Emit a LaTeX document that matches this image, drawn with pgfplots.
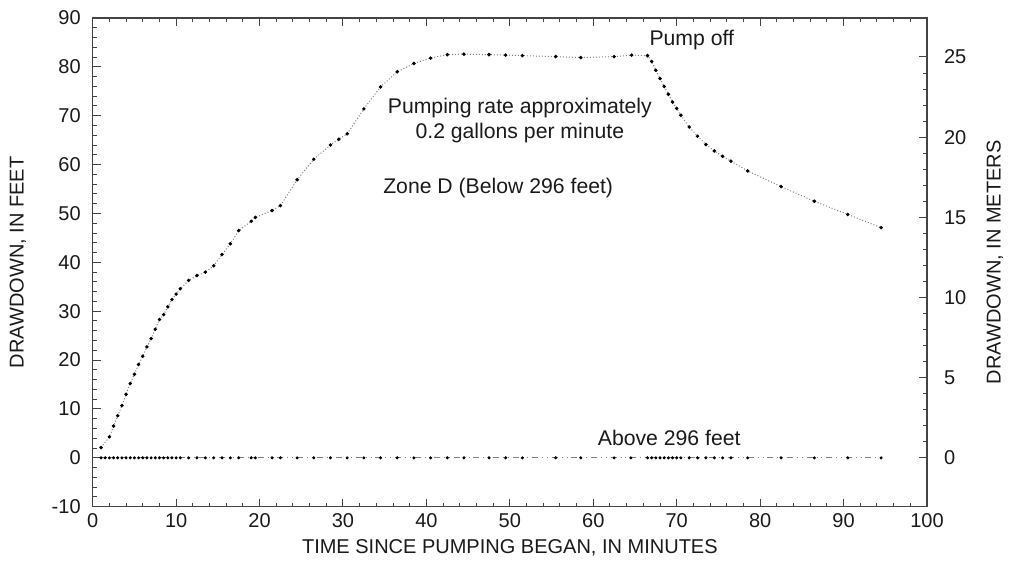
\documentclass[border=0pt]{standalone}
\usepackage{pgfplots}
\pgfplotsset{compat=1.18}
\usepackage{fontspec}
\setmainfont{Liberation Sans}
\usetikzlibrary{calc}

\pgfplotstableread{
t dd
1.0 2.1
2.0 4.3
2.5 6.5
3.0 8.6
3.5 10.7
4.0 13.0
4.5 15.2
5.0 17.1
5.5 19.1
6.0 20.8
6.5 22.7
7.0 24.4
7.5 26.3
8.0 28.3
8.5 29.3
9.0 30.9
9.5 32.4
10.0 33.5
10.5 34.6
11.5 36.3
12.5 37.3
13.5 38.0
14.5 39.3
15.5 41.6
16.5 43.8
17.5 46.5
19.0 48.4
19.5 49.2
21.5 50.6
22.5 51.6
24.5 56.9
26.5 61.1
28.5 64.0
29.5 65.2
30.5 66.3
32.5 71.4
34.5 75.9
36.5 79.0
38.5 80.7
40.5 81.8
42.5 82.5
44.5 82.6
47.5 82.5
49.5 82.4
51.5 82.3
55.5 82.1
58.5 81.9
62.5 82.1
64.6 82.4
66.5 82.3
67.0 81.1
67.5 79.3
68.0 77.6
68.5 76.0
69.0 74.4
69.5 72.8
70.0 71.5
70.5 70.1
71.5 67.7
72.5 65.8
73.5 64.1
74.5 62.8
75.5 61.7
76.5 60.7
78.5 58.7
82.5 55.5
86.5 52.5
90.5 49.8
94.5 47.1
}\zoned

\pgfplotstableread{
t dd
1.0 0
1.5 0
2.0 0
2.5 0
3.0 0
3.5 0
4.0 0
4.5 0
5.0 0
5.5 0
6.0 0
6.5 0
7.0 0
7.5 0
8.0 0
8.5 0
9.0 0
9.5 0
10.0 0
10.5 0
11.5 0
12.5 0
13.5 0
14.5 0
15.5 0
16.5 0
17.5 0
19.0 0
19.5 0
21.5 0
22.5 0
24.5 0
26.5 0
28.5 0
30.5 0
32.5 0
34.5 0
36.5 0
38.5 0
40.5 0
42.5 0
44.5 0
47.5 0
49.5 0
51.5 0
55.5 0
58.5 0
62.5 0
64.5 0
66.5 0
67.0 0
67.5 0
68.0 0
68.5 0
69.0 0
69.5 0
70.0 0
70.5 0
71.5 0
72.5 0
73.5 0
74.5 0
75.5 0
76.5 0
78.5 0
82.5 0
86.5 0
90.5 0
94.5 0
}\above

\definecolor{axgray}{HTML}{444444}
\definecolor{txt}{HTML}{1A1A1A}
\newcommand{\annot}{\fontsize{10.6}{12.8}\selectfont}

\begin{document}
\begin{tikzpicture}
  \pgfplotsset{
    every axis/.append style={
      width=417.15pt, height=244.35pt, scale only axis,
      tick align=inside,
      major tick length=4pt, minor tick length=2pt,
      axis line style={axgray, line width=0.6pt},
      every tick/.style={axgray, line width=0.5pt},
      tick label style={txt, font=\normalsize},
      /pgf/number format/assume math mode=true,
      label style={txt, font=\normalsize},
    },
  }
  \begin{axis}[
      name=ax,
      xmin=0, xmax=100, ymin=-10, ymax=90,
      xtick={0,10,...,100}, minor x tick num=4,
      ytick={-10,0,...,90}, minor y tick num=4,
      xtick pos=both, ytick pos=left,
      yticklabel style={xshift=-2.5pt},
      xlabel={TIME SINCE PUMPING BEGAN, IN MINUTES},
      ylabel={DRAWDOWN, IN FEET},
      xlabel style={at={(axis description cs:0.5,-0.084)}, anchor=center},
      ylabel style={at={(axis description cs:-0.0895,0.5)}, anchor=center},
    ]
    \addplot[gray, densely dotted, line width=0.5pt,
      mark=*, mark size=0.6pt, mark options={black, solid}]
      table[x=t, y=dd] {\zoned};
    \addplot[gray, dash dot dot, line width=0.4pt,
      mark=*, mark size=0.55pt, mark options={black, solid}]
      table[x=t, y=dd] {\above};
    \node[txt, align=center, font=\annot] at (axis cs:51.2,69.0)
      {Pumping rate approximately\\0.2 gallons per minute};
    \node[txt, font=\annot] at (axis cs:48.6,55.3) {Zone D (Below 296 feet)};
    \node[txt, font=\annot] at (axis cs:71.8,85.4) {Pump off};
    \node[txt, font=\annot] at (axis cs:69.1,4.1) {Above 296 feet};
  \end{axis}
  \begin{axis}[
      xmin=0, xmax=100,
      ymin=-3.048, ymax=27.432,
      axis x line=none,
      axis y line*=right,
      ytick={0,5,...,25}, minor y tick num=4,
      yticklabel style={xshift=5pt},
      ylabel={DRAWDOWN, IN METERS},
      ylabel style={at={(axis description cs:1.0815,0.5)}, anchor=center},
    ]
  \end{axis}
  \pgfresetboundingbox
  \path ($(ax.south west)+(-46.35pt,-27.65pt)$) rectangle ($(ax.north east)+(41pt,9pt)$);
\end{tikzpicture}
\end{document}
